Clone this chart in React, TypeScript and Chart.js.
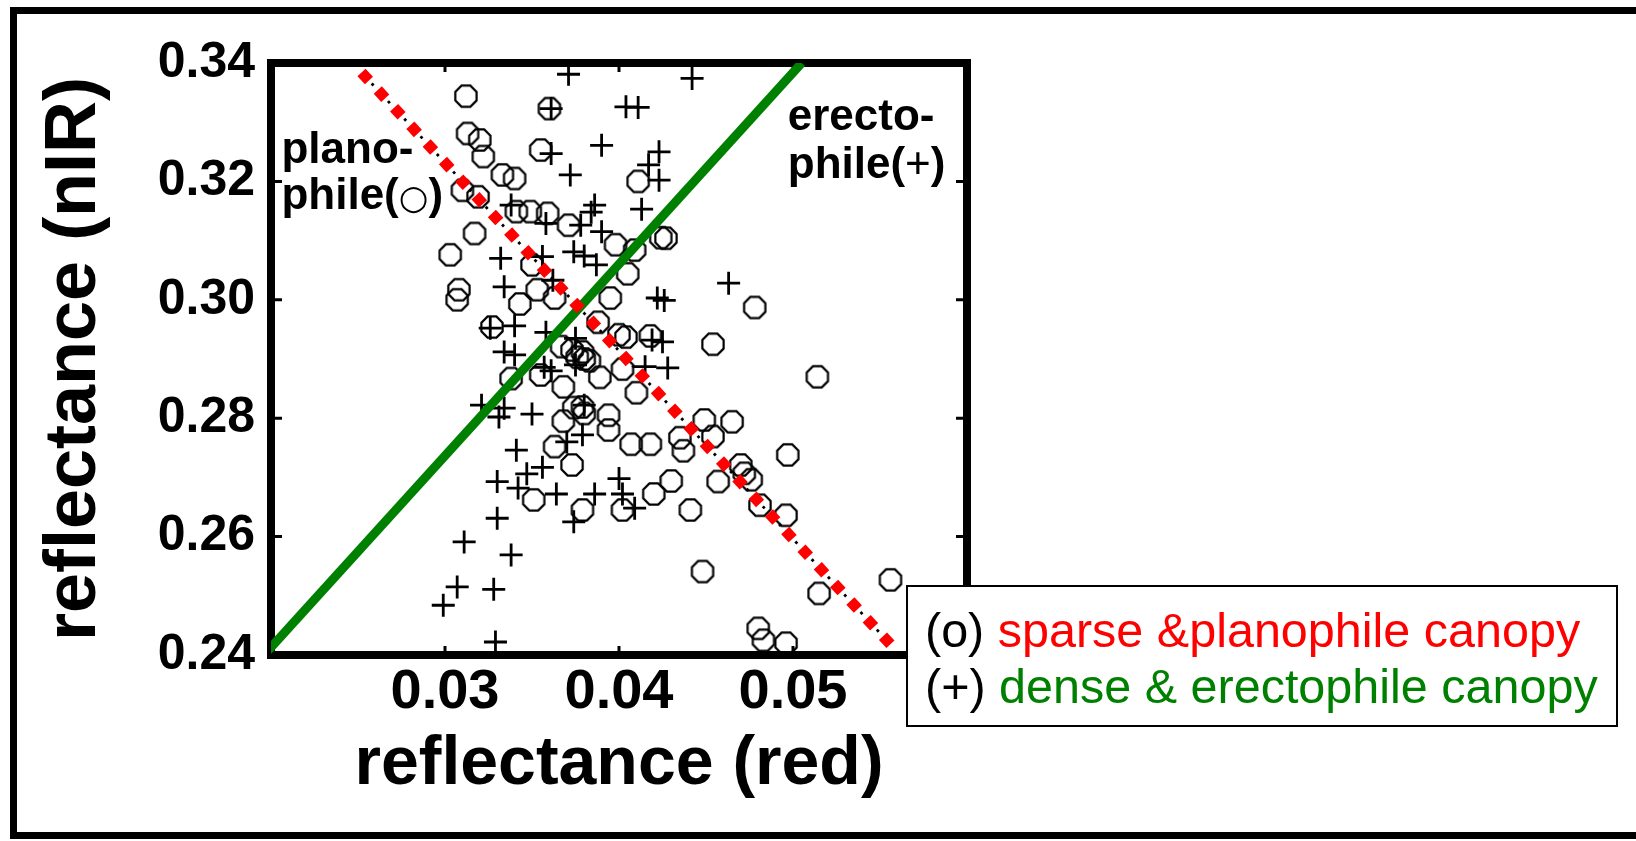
import React, { useEffect, useRef } from 'react';
import { Chart, registerables } from 'chart.js';

Chart.register(...registerables);

// ---------- axes ----------
const X_MIN = 0.02;
const X_MAX = 0.06;
const X_STEP = 0.01;
const Y_MIN = 0.24;
const Y_MAX = 0.34;
const Y_STEP = 0.02;
const xTickLabels = ['0.03', '0.04', '0.05'];
const yTickLabels = ['0.24', '0.26', '0.28', '0.30', '0.32', '0.34'];
const xTitle = 'reflectance (red)';
const yTitle = 'reflectance (nIR)';

// ---------- (o) sparse & planophile canopy ----------
const circleX = [
  0.0312, 0.0360, 0.0313, 0.0320, 0.0322, 0.0355, 0.0333, 0.0340, 0.0310, 0.0319,
  0.0411, 0.0341, 0.0349, 0.0359, 0.0371, 0.0317, 0.0303, 0.0350, 0.0398, 0.0409,
  0.0424, 0.0427, 0.0405, 0.0308, 0.0307, 0.0353, 0.0343, 0.0363, 0.0395, 0.0478,
  0.0327, 0.0388, 0.0400, 0.0418, 0.0404, 0.0454, 0.0367, 0.0373, 0.0379, 0.0376,
  0.0380, 0.0383, 0.0338, 0.0355, 0.0368, 0.0389, 0.0402, 0.0410, 0.0514, 0.0374,
  0.0379, 0.0380, 0.0368, 0.0394, 0.0394, 0.0363, 0.0373, 0.0407, 0.0418, 0.0435,
  0.0437, 0.0449, 0.0465, 0.0454, 0.0497, 0.0470, 0.0472, 0.0476, 0.0457, 0.0430,
  0.0420, 0.0402, 0.0351, 0.0379, 0.0441, 0.0481, 0.0496, 0.0448, 0.0556, 0.0515,
  0.0480, 0.0483, 0.0496,
];
const circleY = [
  0.3344, 0.3323, 0.3281, 0.3270, 0.3242, 0.3253, 0.3211, 0.3205, 0.3185, 0.3174,
  0.3200, 0.3149, 0.3149, 0.3146, 0.3126, 0.3112, 0.3076, 0.3059, 0.3093, 0.3084,
  0.3105, 0.3104, 0.3044, 0.3017, 0.3000, 0.3017, 0.2993, 0.3003, 0.3003, 0.2987,
  0.2954, 0.2962, 0.2941, 0.2939, 0.2937, 0.2925, 0.2921, 0.2915, 0.2912, 0.2903,
  0.2900, 0.2897, 0.2867, 0.2873, 0.2853, 0.2869, 0.2883, 0.2843, 0.2870, 0.2818,
  0.2819, 0.2808, 0.2795, 0.2805, 0.2780, 0.2752, 0.2721, 0.2756, 0.2756, 0.2767,
  0.2745, 0.2797, 0.2794, 0.2769, 0.2738, 0.2721, 0.2707, 0.2696, 0.2693, 0.2694,
  0.2672, 0.2645, 0.2662, 0.2645, 0.2645, 0.2653, 0.2636, 0.2541, 0.2527, 0.2504,
  0.2445, 0.2425, 0.2420,
];

// ---------- (+) dense & erectophile canopy ----------
const plusX = [
  0.0371, 0.0442, 0.0404, 0.0411, 0.0361, 0.0390, 0.0361, 0.0372, 0.0423, 0.0417,
  0.0423, 0.0386, 0.0413, 0.0338, 0.0384, 0.0358, 0.0378, 0.0390, 0.0332, 0.0374,
  0.0380, 0.0387, 0.0356, 0.0362, 0.0334, 0.0422, 0.0426, 0.0463, 0.0340, 0.0358,
  0.0375, 0.0419, 0.0425, 0.0428, 0.0334, 0.0340, 0.0357, 0.0361, 0.0375, 0.0415,
  0.0321, 0.0334, 0.0331, 0.0350, 0.0380, 0.0379, 0.0370, 0.0341, 0.0356, 0.0347,
  0.0330, 0.0342, 0.0364, 0.0400, 0.0386, 0.0402, 0.0330, 0.0374, 0.0409, 0.0311,
  0.0338, 0.0307, 0.0328, 0.0299, 0.0329, 0.0326,
];
const plusY = [
  0.3381, 0.3374, 0.3326, 0.3325, 0.3323, 0.3261, 0.3247, 0.3211, 0.3250, 0.3228,
  0.3202, 0.3160, 0.3153, 0.3160, 0.3148, 0.3129, 0.3126, 0.3115, 0.3070, 0.3081,
  0.3074, 0.3059, 0.3073, 0.3033, 0.3022, 0.3003, 0.2999, 0.3028, 0.2956, 0.2945,
  0.2935, 0.2932, 0.2929, 0.2885, 0.2912, 0.2907, 0.2886, 0.2880, 0.2890, 0.2887,
  0.2822, 0.2817, 0.2802, 0.2807, 0.2822, 0.2772, 0.2760, 0.2746, 0.2717, 0.2706,
  0.2693, 0.2682, 0.2672, 0.2698, 0.2672, 0.2672, 0.2631, 0.2625, 0.2648, 0.2591,
  0.2569, 0.2515, 0.2511, 0.2484, 0.2422, 0.2952,
];

// ---------- separating lines ----------
const redFitX = [0.0252, 0.0556];
const redFitY = [0.3384, 0.2418];
const greenFitX = [0.0196, 0.0505];
const greenFitY = [0.24, 0.34];

// ---------- in-plot labels ----------
const planoX = 0.0206;
const planoY = [0.3231, 0.3153];
const erectoX = 0.0497;
const erectoY = [0.3287, 0.3206];

const legendLine1 = { mark: '(o)', text: 'sparse &planophile canopy' };
const legendLine2 = { mark: '(+)', text: 'dense & erectophile canopy' };

const RED = '#ff0000';
const GREEN = '#008000';
const FONT = "'Liberation Sans', Arial, Helvetica, sans-serif";

const toPoints = (xs: number[], ys: number[]) => xs.map((x, i) => ({ x, y: ys[i] }));

function makeOctagon(): HTMLCanvasElement {
  const c = document.createElement('canvas');
  c.width = 28;
  c.height = 28;
  const g = c.getContext('2d')!;
  g.strokeStyle = '#000';
  g.lineWidth = 2.2;
  g.beginPath();
  for (let i = 0; i < 8; i++) {
    const a = Math.PI / 8 + (i * Math.PI) / 4;
    const px = 14 + 11.5 * Math.cos(a);
    const py = 14 + 11.5 * Math.sin(a);
    if (i === 0) g.moveTo(px, py);
    else g.lineTo(px, py);
  }
  g.closePath();
  g.stroke();
  return c;
}

type Seg = { t: string; f: string };

const framePlugin = {
  id: 'framePlugin',
  beforeDatasetsDraw(chart: any) {
    const { ctx, chartArea: a, scales } = chart;
    ctx.save();
    ctx.strokeStyle = '#000';
    ctx.lineWidth = 8;
    ctx.strokeRect(a.left, a.top, a.right - a.left, a.bottom - a.top);
    ctx.lineWidth = 3;
    ctx.beginPath();
    for (const t of scales.x.ticks) {
      if (t.value <= X_MIN + 1e-9 || t.value >= X_MAX - 1e-9) continue;
      const px = scales.x.getPixelForValue(t.value);
      ctx.moveTo(px, a.bottom);
      ctx.lineTo(px, a.bottom - 9);
      ctx.moveTo(px, a.top);
      ctx.lineTo(px, a.top + 9);
    }
    for (const t of scales.y.ticks) {
      if (t.value <= Y_MIN + 1e-9 || t.value >= Y_MAX - 1e-9) continue;
      const py = scales.y.getPixelForValue(t.value);
      ctx.moveTo(a.left, py);
      ctx.lineTo(a.left + 11, py);
      ctx.moveTo(a.right, py);
      ctx.lineTo(a.right - 11, py);
    }
    ctx.stroke();
    ctx.restore();
  },
  afterDatasetsDraw(chart: any) {
    const { ctx, scales } = chart;
    const bold = `bold 44px ${FONT}`;
    const drawLine = (segs: Seg[], xv: number, yv: number) => {
      let x = scales.x.getPixelForValue(xv);
      const y = scales.y.getPixelForValue(yv);
      for (const s of segs) {
        ctx.font = s.f;
        ctx.fillText(s.t, x, y);
        x += ctx.measureText(s.t).width;
      }
    };
    ctx.save();
    ctx.fillStyle = '#000';
    ctx.textAlign = 'left';
    ctx.textBaseline = 'alphabetic';
    drawLine([{ t: 'plano-', f: bold }], planoX, planoY[0]);
    drawLine(
      [
        { t: 'phile(', f: bold },
        { t: '○', f: `34px 'DejaVu Sans', sans-serif` },
        { t: ')', f: bold },
      ],
      planoX,
      planoY[1]
    );
    drawLine([{ t: 'erecto-', f: bold }], erectoX, erectoY[0]);
    drawLine(
      [
        { t: 'phile(', f: bold },
        { t: '+', f: `44px ${FONT}` },
        { t: ')', f: bold },
      ],
      erectoX,
      erectoY[1]
    );
    ctx.restore();
  },
};

export default function App() {
  const canvasRef = useRef<HTMLCanvasElement | null>(null);

  useEffect(() => {
    const canvas = canvasRef.current;
    if (!canvas) return;
    const octagon = makeOctagon();

    const chart = new Chart(canvas, {
      type: 'scatter',
      data: {
        datasets: [
          {
            label: 'red fit',
            data: toPoints(redFitX, redFitY),
            showLine: true,
            borderColor: RED,
            borderWidth: 11,
            borderDash: [11, 13],
            borderCapStyle: 'butt',
            pointRadius: 0,
            fill: false,
          } as any,
          {
            label: 'black dots',
            data: toPoints(redFitX, redFitY),
            showLine: true,
            borderColor: '#000',
            borderWidth: 2.8,
            borderDash: [2.8, 9.2],
            borderDashOffset: -15,
            borderCapStyle: 'butt',
            pointRadius: 0,
            fill: false,
          } as any,
          {
            label: 'green fit',
            data: toPoints(greenFitX, greenFitY),
            showLine: true,
            borderColor: GREEN,
            borderWidth: 9,
            borderCapStyle: 'butt',
            pointRadius: 0,
            fill: false,
          } as any,
          {
            label: 'dense & erectophile canopy',
            data: toPoints(plusX, plusY),
            showLine: false,
            pointStyle: 'cross',
            pointRadius: 11.5,
            pointBorderWidth: 2.8,
            pointBorderColor: '#000',
            borderColor: '#000',
          } as any,
          {
            label: 'sparse & planophile canopy',
            data: toPoints(circleX, circleY),
            showLine: false,
            pointStyle: octagon,
            pointRadius: 11,
            borderColor: '#000',
          } as any,
        ],
      },
      options: {
        responsive: false,
        devicePixelRatio: 1,
        animation: false,
        layout: { padding: { left: 0, top: 63, right: 669, bottom: 0 } },
        plugins: {
          legend: { display: false },
          tooltip: { enabled: false },
        },
        scales: {
          x: {
            type: 'linear',
            min: X_MIN,
            max: X_MAX,
            grid: { display: false, drawTicks: false },
            border: { display: false },
            ticks: {
              stepSize: X_STEP,
              autoSkip: false,
              maxRotation: 0,
              padding: 4,
              color: '#000',
              font: { family: "'Liberation Sans Narrow', " + FONT, size: 56, weight: 'bold' },
              callback: (v: any) => {
                const s = Number(v).toFixed(2);
                return xTickLabels.includes(s) ? s : '';
              },
            },
            title: {
              display: true,
              text: xTitle,
              color: '#000',
              font: { family: FONT, size: 68, weight: 'bold', lineHeight: 1.2 },
              padding: { top: 0, bottom: 35 },
            },
            afterFit: (s: any) => {
              s.height = 186;
            },
          },
          y: {
            type: 'linear',
            min: Y_MIN,
            max: Y_MAX,
            grid: { display: false, drawTicks: false },
            border: { display: false },
            ticks: {
              stepSize: Y_STEP,
              autoSkip: false,
              padding: 16,
              color: '#000',
              font: { family: FONT, size: 50, weight: 'bold' },
              callback: (v: any) => {
                const s = Number(v).toFixed(2);
                return yTickLabels.includes(s) ? s : '';
              },
            },
            title: {
              display: true,
              text: yTitle,
              color: '#000',
              font: { family: FONT, size: 72, weight: 'bold', lineHeight: 1.2 },
              padding: { top: 32, bottom: 0 },
            },
            afterFit: (s: any) => {
              s.width = 271;
            },
          },
        },
      } as any,
      plugins: [framePlugin],
    });

    return () => chart.destroy();
  }, []);

  const lineStyle: React.CSSProperties = {
    height: 56,
    lineHeight: '56px',
    whiteSpace: 'nowrap',
  };

  return (
    <div
      style={{
        position: 'fixed',
        left: 0,
        top: 0,
        width: '100vw',
        height: '100vh',
        overflow: 'hidden',
        background: '#fff',
      }}
    >
      <canvas
        ref={canvasRef}
        width={1636}
        height={841}
        style={{ position: 'absolute', left: 0, top: 0, width: 1636, height: 841, display: 'block' }}
      />
      <div
        style={{
          position: 'absolute',
          left: 10,
          top: 7,
          width: 1700,
          height: 832,
          boxSizing: 'border-box',
          borderTop: '7px solid #000',
          borderLeft: '7px solid #000',
          borderBottom: '7px solid #000',
          pointerEvents: 'none',
        }}
      />
      <div
        style={{
          position: 'absolute',
          left: 906,
          top: 585,
          width: 712,
          height: 142,
          boxSizing: 'border-box',
          border: '2px solid #000',
          background: '#fff',
          paddingTop: 15,
          paddingLeft: 17,
          fontFamily: FONT,
          fontSize: 48.5,
          color: '#000',
        }}
      >
        <div style={lineStyle}>
          <span>{legendLine1.mark}</span> <span style={{ color: RED }}>{legendLine1.text}</span>
        </div>
        <div style={lineStyle}>
          <span>{legendLine2.mark}</span> <span style={{ color: GREEN }}>{legendLine2.text}</span>
        </div>
      </div>
    </div>
  );
}
